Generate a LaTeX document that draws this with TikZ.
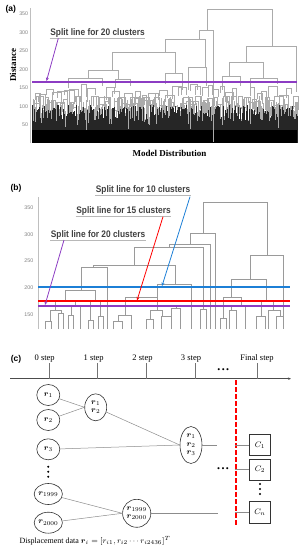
\documentclass[tikz,border=0pt]{standalone}
\usepackage{amsmath,amssymb}
\usepackage{fontspec}
\setmainfont{Liberation Serif}
\setsansfont{Liberation Sans}
\newfontfamily\splitfont[FakeStretch=0.88]{Liberation Sans}
\usepackage{tikz}
\usepackage{xcolor}
\usetikzlibrary{shapes.geometric, arrows.meta, positioning, calc}
\definecolor{SplitPurple}{RGB}{140,60,195}
\definecolor{CutRed}{RGB}{255,0,0}
\definecolor{SplitBlue}{RGB}{28,127,214}
\definecolor{DendGray}{HTML}{9A9A9A}
\definecolor{DendLight}{HTML}{ABABAB}
\definecolor{LabelGray}{HTML}{404040}
\definecolor{LabelShade}{HTML}{B8B8B8}
\definecolor{TickGray}{HTML}{7F7F7F}
\tikzset{
    % dendrogram lines
    dendline/.style={draw=DendGray, line width=0.75},
    dendthin/.style={draw=DendLight, line width=0.45},
    splitarrow/.style={-{Stealth[length=3.5pt,width=3pt]}, line width=0.8},
    splitlabel/.style={
        font=\splitfont\bfseries\fontsize{9.5}{10}\selectfont,
        text=LabelGray,
        inner sep=0.4
    },
    ticklabel/.style={font=\sffamily\fontsize{5.3}{6}\selectfont, text=TickGray, anchor=east, inner sep=0},
    panellabel/.style={font=\sffamily\bfseries\fontsize{8.5}{10}\selectfont, inner sep=0},
    axistitle/.style={font=\bfseries\fontsize{9}{10}\selectfont, inner sep=0},
    % step diagram
    steplabel/.style={font=\fontsize{8.5}{10}\selectfont, inner sep=0},
    steptick/.style={draw=black!55, line width=0.5},
    rnode/.style={
        ellipse,
        draw=black!80,
        line width=0.6,
        minimum width=23,
        minimum height=21,
        inner sep=0,
        font=\fontsize{8}{9}\selectfont
    },
    groupnode/.style={
        ellipse,
        draw=black!80,
        line width=0.6,
        inner sep=0,
        align=center,
        font=\fontsize{8}{9.5}\selectfont
    },
    clusterbox/.style={
        rectangle,
        draw=black!80,
        line width=0.6,
        minimum width=21.5,
        minimum height=21.5,
        inner sep=0,
        font=\fontsize{8.5}{10}\selectfont
    },
    link/.style={draw=black!45, line width=0.5}
}

\begin{document}
\begin{tikzpicture}[x=1pt, y=-1pt]
    \useasboundingbox (0,0) rectangle (302,550);

    % ---------------- (a) ----------------
    \node[panellabel] (alabel) at (10.8,9) {(a)};
    \draw[draw=black!25, line width=0.4] (30,8) -- (30,143);
    \foreach \yy/\val [count=\k] in {14/350, 32.3/300, 50.7/250, 69.3/200, 88/150, 106.7/100, 125/50}
        \node[ticklabel] (atick\k) at (28.3,\yy) {\val};
    \node[axistitle, rotate=90] (adist) at (13,65) {Distance};
    \node[axistitle] (amodel) at (169.5,153.3) {Model Distribution};

    % lower branches and leaves
    \pgfmathsetseed{7}
    \foreach \i in {0,...,264} {
        \pgfmathsetmacro\xx{32+\i}
        \pgfmathsetmacro\yt{96+rnd*24}
        \draw[dendthin] (\xx,142) -- (\xx,\yt);
    }
    \foreach \i in {0,...,43} {
        \pgfmathsetmacro\xa{33+6*\i+rnd*2}
        \pgfmathsetmacro\w{3+rnd*7}
        \pgfmathsetmacro\ya{84+rnd*14}
        \pgfmathsetmacro\yb{\ya+5+rnd*10}
        \pgfmathsetmacro\yc{\ya+5+rnd*10}
        \draw[dendthin] (\xa,\yb) -- (\xa,\ya) -- (\xa+\w,\ya) -- (\xa+\w,\yc);
    }
    \foreach \i in {0,...,87} {
        \pgfmathsetmacro\xa{33+3*\i+rnd*1.5}
        \pgfmathsetmacro\w{2+rnd*4}
        \pgfmathsetmacro\ya{96+rnd*16}
        \pgfmathsetmacro\yb{\ya+5+rnd*10}
        \pgfmathsetmacro\yc{\ya+5+rnd*10}
        \draw[dendthin] (\xa,\yb) -- (\xa,\ya) -- (\xa+\w,\ya) -- (\xa+\w,\yc);
    }
    \foreach \i in {0,...,662} {
        \pgfmathsetmacro\xx{32+\i*0.4}
        \pgfmathsetmacro\yt{105+rnd*26}
        \draw[black!85, line width=0.4] (\xx,142.5) -- (\xx,\yt);
    }
    \fill[black] (32,130) rectangle (297,142.5);

    % upper branches
    \foreach \xl/\xr/\yy/\yl/\yr in {207/272/9.5/30/46.7, 199/213/30/39/142, 165/205/39/52/67,
        112/175/52/70/73, 188/206/67/90/86, 88/118/70/78/79, 68/102/78/88/86, 115/130/79/88/86,
        165/182/73/84/90, 246/296/46.7/62/92, 229/263/62/76/78, 222/240/76/90/86, 250/277/78/88/84}
        \draw[dendthin] (\xl,\yl) -- (\xl,\yy) -- (\xr,\yy) -- (\xr,\yr);

    \fill[SplitPurple] (32,81.2) rectangle (297,82.8);
    \node[splitlabel] (asplit) at (97.5,33.3) {Split line for 20 clusters};
    \draw[LabelShade, line width=1.2] ([yshift=-0.4pt]asplit.south west) -- ([yshift=-0.4pt]asplit.south east);
    \coordinate (aarrs) at (58.3,38.3);
    \coordinate (aarre) at (46.5,81);
    \draw[splitarrow, color=SplitPurple] (aarrs) -- (aarre);

    % ---------------- (b) ----------------
    \node[panellabel] (blabel) at (16,188) {(b)};
    \draw[draw=black!25, line width=0.4] (38,197) -- (38,329);
    \foreach \yy/\val [count=\k] in {207.7/350, 234.3/300, 261/250, 287.6/200, 314.3/150}
        \node[ticklabel] (btick\k) at (33.5,\yy) {\val};

    \foreach \xl/\xr/\yy/\yl/\yr in {203/267/202.3/233.3/255, 190/215/233.3/244.3/329,
        169/210/244.3/247.3/329, 134/203/247.3/265.5/309.3, 93/175/265.5/267.3/284.3,
        81/107.7/267.3/290.7/329, 65/95/290.7/300/301.7, 55.7/75.7/300/310/306.7,
        50/61.7/310/321.7/313.3, 45/51.7/321.7/329/329, 58.3/63.3/313.3/329/329,
        71.7/80/306.7/315/329, 68.3/73.3/315/329/329, 90/100.7/301.7/320/316.7,
        88.3/93.3/320/329/329, 98.3/103.3/316.7/329/329, 157/191.7/284.3/297.7/305,
        125/157/297.7/315/310, 118/131.7/315/321.7/329, 113/122/321.7/329/329,
        150/162/310/319/316.7, 146/153/319/329/329, 161.7/171.7/316.7/329/329,
        176/191.7/305/308.3/329, 171.7/180/308.3/329/329, 200/206.7/309.3/329/329,
        250/283/255/279.3/329, 231.7/266.7/279.3/297.3/300.7, 223.3/241.7/297.3/318.3/305,
        220/226.7/318.3/329/329, 231.7/245/305/310.7/329, 229/236.7/310.7/329/329,
        261.7/273.3/300.7/316.7/310, 256.7/265/316.7/329/329, 268.3/280/310/329/316.7,
        276/283/316.7/329/329}
        \draw[dendline] (\xl,\yl) -- (\xl,\yy) -- (\xr,\yy) -- (\xr,\yr);

    \fill[SplitBlue] (38,286.2) rectangle (290,287.8);
    \fill[CutRed] (38,300.4) rectangle (290,302.2);
    \fill[SplitPurple] (38,304.9) rectangle (290,306.5);

    \node[splitlabel] (bsplit10) at (143,190) {Split line for 10 clusters};
    \node[splitlabel] (bsplit15) at (123.5,211) {Split line for 15 clusters};
    \node[splitlabel] (bsplit20) at (98,235) {Split line for 20 clusters};
    \foreach \lbl in {bsplit10, bsplit15, bsplit20}
        \draw[LabelShade, line width=1.2] ([yshift=-0.4pt]\lbl.south west) -- ([yshift=-0.4pt]\lbl.south east);

    \coordinate (b10s) at (190,196.7);
    \coordinate (b10e) at (162,286);
    \coordinate (b15s) at (163,216.7);
    \coordinate (b15e) at (137,300.5);
    \coordinate (b20s) at (64,240);
    \coordinate (b20e) at (45,305);
    \draw[splitarrow, color=SplitBlue] (b10s) -- (b10e);
    \draw[splitarrow, color=CutRed] (b15s) -- (b15e);
    \draw[splitarrow, color=SplitPurple] (b20s) -- (b20e);

    % ---------------- (c) ----------------
    \node[panellabel] (clabel) at (16,359) {(c)};
    \coordinate (tstart) at (10,378.7);
    \coordinate (tend) at (291,378.7);
    \draw[draw=black!70, line width=0.5, -{Stealth[length=3pt,width=2.4pt]}] (tstart) -- (tend);
    \foreach \xx in {49, 97.3, 146, 195, 257.7}
        \draw[steptick] (\xx,363) -- (\xx,378.7);
    \foreach \xx/\lbl [count=\k] in {44.7/0 step, 93.7/1 step, 142.5/2 step, 191/3 step, 257/Final step}
        \node[steplabel] (step\k) at (\xx,358.7) {\lbl};
    \node[steplabel] (stepdots) at (223.3,370.5) {\textbullet\,\textbullet\,\textbullet};

    % final split
    \foreach \d in {0,...,20}
        \fill[CutRed] (235,380+7*\d) rectangle (236.6,384.5+7*\d);

    % data points
    \node[rnode] (r1) at (48.3,395) {$\boldsymbol{r}_1$};
    \node[rnode] (r2) at (48.3,420) {$\boldsymbol{r}_2$};
    \node[rnode] (r3) at (48.3,449.3) {$\boldsymbol{r}_3$};
    \node[rnode] (r1999) at (48.3,494) {$\boldsymbol{r}_{1999}$};
    \node[rnode] (r2000) at (48.3,522.7) {$\boldsymbol{r}_{2000}$};
    \foreach \d in {0,1,2}
        \fill (48.3,466.7+5*\d) circle (1.1);

    % merged groups
    \node[groupnode, minimum width=22, minimum height=27] (r12) at (95.7,407.3) {$\boldsymbol{r}_1$\\[-1pt]$\boldsymbol{r}_2$};
    \node[groupnode, minimum width=22, minimum height=37] (r123) at (191,445) {$\boldsymbol{r}_1$\\[-1pt]$\boldsymbol{r}_2$\\[-1pt]$\boldsymbol{r}_3$};
    \node[groupnode, minimum width=26, minimum height=28] (r19992000) at (136.7,513.3) {$\boldsymbol{r}_{1999}$\\[-1pt]$\boldsymbol{r}_{2000}$};

    % clusters
    \node[clusterbox] (c1) at (260,445) {$C_1$};
    \node[clusterbox] (c2) at (260,469.7) {$C_2$};
    \node[clusterbox] (cn) at (260,512.5) {$C_n$};
    \foreach \d in {0,1,2}
        \fill (260,484+5*\d) circle (1.1);
    \node[steplabel] (middots) at (223,470) {\textbullet\,\textbullet\,\textbullet};

    % links
    \draw[link] (r1) -- (r12.west);
    \draw[link] (r2) -- (r12.west);
    \draw[link] (r12) -- (r123.west);
    \draw[link] (r3) -- (r123.west);
    \draw[link] (r1999) -- (r19992000.west);
    \draw[link] (r2000) -- (r19992000.west);
    \coordinate (e123) at (216.7,445);
    \coordinate (e2000) at (218.3,513.3);
    \draw[link] (r123.east) -- (e123);
    \draw[link] (r19992000.east) -- (e2000);
    \coordinate (d1) at (234.5,445);
    \coordinate (d2) at (234.5,469.7);
    \coordinate (dn) at (234.5,512.5);
    \draw[link] (d1) -- (c1.west);
    \draw[link] (d2) -- (c2.west);
    \draw[link] (dn) -- (cn.west);

    \node[steplabel, font=\fontsize{8}{10}\selectfont] (disp) at (95,540.7)
        {Displacement data $\boldsymbol{r}_i = [r_{i1}, r_{i2}\cdots r_{i2436}]^T$};
\end{tikzpicture}
\end{document}
